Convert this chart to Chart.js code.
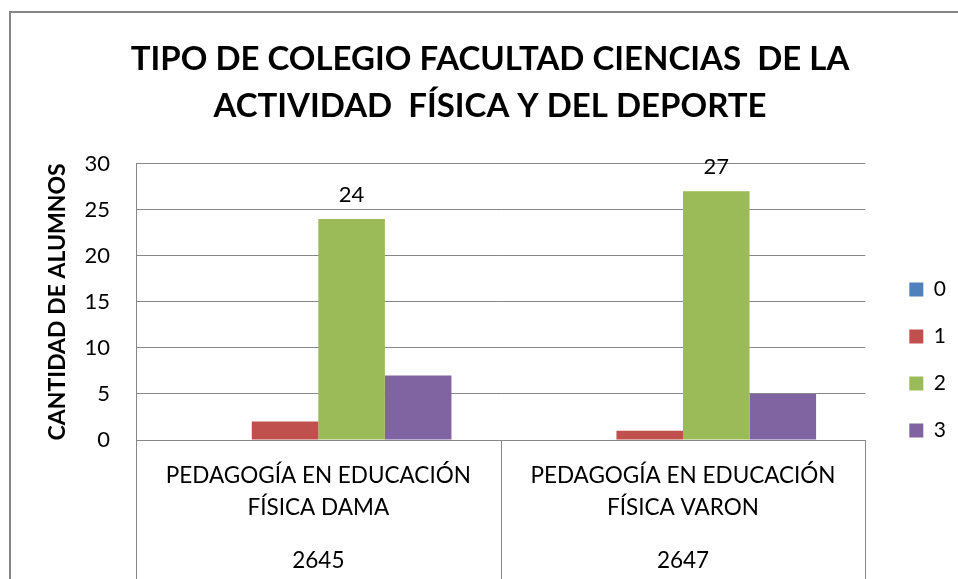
<!DOCTYPE html>
<html>
<head>
<meta charset="utf-8">
<script src="https://cdn.jsdelivr.net/npm/chart.js@4/dist/chart.umd.min.js"></script>
<style>
  body { margin: 0; background: #fff; }
  #wrap { position: relative; width: 958px; height: 579px; overflow: hidden; }
  #frame {
    position: absolute; left: 9px; top: 11px; width: 1000px; height: 700px;
    border: 2px solid #878787; box-sizing: border-box;
  }
  #myChart { position: absolute; left: 0; top: 0; }
</style>
</head>
<body>
<div id="wrap">
  <div id="frame"></div>
  <canvas id="myChart" width="958" height="579"></canvas>
</div>
<script>
const titleLines = ['TIPO DE COLEGIO FACULTAD CIENCIAS  DE LA', 'ACTIVIDAD  FÍSICA Y DEL DEPORTE']
const yTitle = 'CANTIDAD DE ALUMNOS'

const programLabels = [
  ['PEDAGOGÍA EN EDUCACIÓN', 'FÍSICA DAMA'],
  ['PEDAGOGÍA EN EDUCACIÓN', 'FÍSICA VARON']
]
const programCodes = ['2645', '2647']

const seriesNames = ['0', '1', '2', '3']
const series0 = [0, 0]
const series1 = [2, 1]
const series2 = [24, 27]
const series3 = [7, 5]
const seriesColors = ['#4F81BD', '#C0504D', '#9BBB59', '#8064A2']

// only this series carries value labels in the original
const labeledSeries = ['2']

const yMin = 0
const yMax = 30
const yStep = 5

const gridColor = '#878787'

// value labels above the bars of the labeled series
const valueLabels = {
  id: 'valueLabels',
  afterDatasetsDraw(chart) {
    const ctx = chart.ctx
    ctx.save()
    ctx.font = '22px Lato'
    ctx.fillStyle = '#000'
    ctx.textAlign = 'center'
    ctx.textBaseline = 'middle'
    chart.data.datasets.forEach((ds, i) => {
      if (!labeledSeries.includes(ds.label)) return
      chart.getDatasetMeta(i).data.forEach((bar, j) => {
        ctx.fillText(ds.data[j], bar.x, bar.y - 24)
      })
    })
    ctx.restore()
  }
}

// vertical dividers running through the category label area
const categoryDividers = {
  id: 'categoryDividers',
  afterDraw(chart) {
    const x = chart.scales.x
    const n = chart.data.labels.length
    const edges = [x.left]
    for (let i = 1; i < n; i++) {
      edges.push((x.getPixelForValue(i - 1) + x.getPixelForValue(i)) / 2)
    }
    edges.push(x.right)
    const ctx = chart.ctx
    ctx.save()
    ctx.strokeStyle = gridColor
    ctx.lineWidth = 1
    edges.forEach(px => {
      const p = Math.round(px) + 0.5
      ctx.beginPath()
      ctx.moveTo(p, x.top)
      ctx.lineTo(p, chart.height)
      ctx.stroke()
    })
    ctx.restore()
  }
}

// small shifts so title and legend sit where the original puts them
const nudgeBoxes = {
  id: 'nudgeBoxes',
  afterLayout(chart) {
    const lg = chart.legend
    lg.left += 18
    lg.right += 18
    lg.top += 27
    lg.bottom += 27
    const tb = chart.titleBlock
    tb.left += 10
    tb.right += 10
  }
}

Chart.defaults.font.family = 'Lato'
Chart.defaults.color = '#000'

const ctx = document.getElementById('myChart').getContext('2d')

const datasets = [series0, series1, series2, series3].map((values, i) => ({
  label: seriesNames[i],
  data: values,
  backgroundColor: seriesColors[i],
  borderWidth: 0,
  barPercentage: 1,
  categoryPercentage: 0.73
}))

const fixHeight = h => scale => {
  scale.height = h
  scale.paddingLeft = 0
  scale.paddingRight = 0
}

const myChart = new Chart(ctx, {
  type: 'bar',
  data: {
    labels: programLabels,
    datasets
  },
  options: {
    responsive: false,
    animation: false,
    layout: {
      padding: { left: 22, right: 20, top: 0, bottom: 3 }
    },
    plugins: {
      title: {
        display: true,
        text: titleLines,
        color: '#000',
        font: { size: 33, weight: 'bold', lineHeight: 1.42 },
        padding: { top: 36, bottom: 34 }
      },
      legend: {
        position: 'right',
        align: 'end',
        fullSize: false,
        labels: {
          boxWidth: 14,
          boxHeight: 14,
          padding: 26,
          color: '#000',
          font: { size: 21 }
        }
      },
      tooltip: { enabled: false }
    },
    scales: {
      x: {
        grid: { display: false, drawTicks: false },
        border: { display: true, color: gridColor },
        ticks: {
          padding: 19,
          maxRotation: 0,
          autoSkip: false,
          color: '#000',
          font: { size: 22.5, lineHeight: 1.45 }
        },
        afterFit: fixHeight(83)
      },
      x2: {
        type: 'category',
        labels: programCodes,
        position: 'bottom',
        weight: 1,
        grid: { display: false, drawTicks: false },
        border: { display: false },
        ticks: {
          padding: 21,
          maxRotation: 0,
          color: '#000',
          font: { size: 22.5, lineHeight: 1.45 }
        },
        afterFit: fixHeight(53)
      },
      y: {
        min: yMin,
        max: yMax,
        ticks: {
          stepSize: yStep,
          padding: 26,
          color: '#000',
          font: { size: 22 }
        },
        grid: { color: gridColor, drawTicks: false },
        border: { display: true, color: gridColor },
        title: {
          display: true,
          text: yTitle,
          color: '#000',
          font: { size: 23, weight: 'bold' },
          padding: { top: 22, bottom: 14 }
        },
        afterFit: scale => {
          scale.width = 114
        }
      }
    }
  },
  plugins: [valueLabels, categoryDividers, nudgeBoxes]
})
</script>
</body>
</html>
